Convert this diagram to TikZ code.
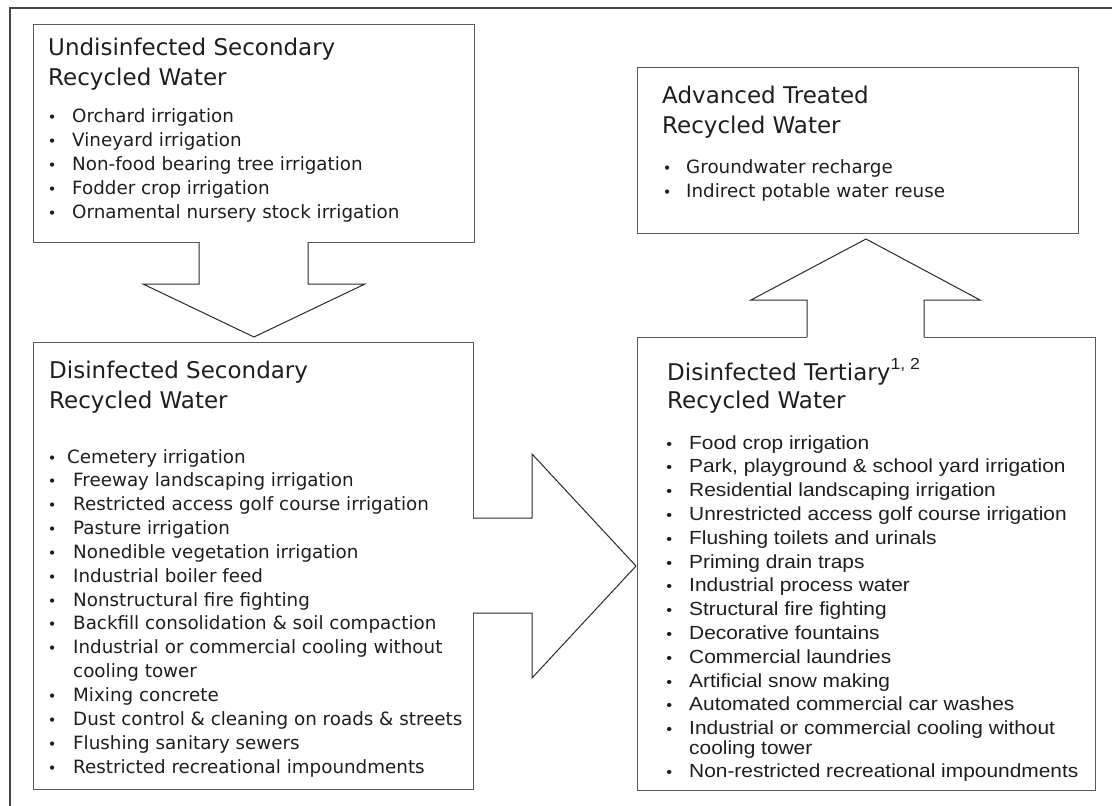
\documentclass[tikz,border=0pt]{standalone}
\usepackage{fontspec}
\setmainfont{DejaVu Sans}
\newfontfamily\arialf[FakeStretch=1.1]{Liberation Sans}
\definecolor{boxline}{HTML}{5A5A5A}
\definecolor{arrline}{HTML}{2A2A2A}
\definecolor{txt}{HTML}{1E1E1E}
\newcommand\ttlfont{\fontsize{23}{28}\selectfont}
\newcommand\itmfont{\fontsize{18.3}{22}\selectfont}
\newcommand\tertfont{\arialf\fontsize{19}{22}\selectfont}
\newcommand\bul[1][20pt]{\llap{\makebox[0pt][c]{\scalebox{0.8}{•}}\hspace{#1}}}
\begin{document}
\begin{tikzpicture}[x=1pt,y=-1pt,
  box/.style={draw=boxline, line width=1.3pt, anchor=north west, inner sep=0pt},
  ttl/.style={anchor=base west, inner sep=0pt, font=\ttlfont, text=txt},
  itm/.style={anchor=base west, inner sep=0pt, font=\itmfont, text=txt},
  titm/.style={anchor=base west, inner sep=0pt, font=\tertfont, text=txt},
  blk/.style={draw=arrline, line width=1pt, line join=miter}
]
\useasboundingbox (0,0) rectangle (1112,806);
% outer frame
\draw[line width=2pt, draw=black!72] (10,812) -- (10,8) -- (1116,8);

% boxes
\node[box, minimum width=441pt, minimum height=218pt] (b1) at (33,24) {};
\node[box, minimum width=440pt, minimum height=447pt] (b2) at (33,342) {};
\node[box, minimum width=441pt, minimum height=166pt] (b3) at (637,67) {};
\node[box, minimum width=458pt, minimum height=453pt] (b4) at (637,337) {};

% block arrows
\coordinate (d1) at (199,242); \coordinate (d2) at (308,242);
\fill[white] (199,240) rectangle (308,285);
\draw[blk] (d1) -- (199,284) -- (143,284) -- (254,337) -- (365,284) -- (308,284) -- (d2);

\coordinate (r1) at (473,518); \coordinate (r2) at (473,613);
\fill[white] (471,518) rectangle (532,613);
\draw[blk] (r1) -- (532,518) -- (532,454) -- (636,566) -- (532,678) -- (532,613) -- (r2);

\coordinate (u1) at (807,337); \coordinate (u2) at (924,337);
\fill[white] (807,339) rectangle (924,300);
\draw[blk] (u1) -- (807,300) -- (751,300) -- (866,239) -- (980,300) -- (924,300) -- (u2);

% box 1 text
\node[ttl] (t1a) at (48,55) {Undisinfected Secondary};
\node[ttl] (t1b) at (48,85) {Recycled Water};
\foreach \t [count=\i from 0] in {Orchard irrigation, Vineyard irrigation, Non-food bearing tree irrigation, Fodder crop irrigation, Ornamental nursery stock irrigation}
  \node[itm] (ua\i) at (72,{122+24*\i}) {\bul\t};

% box 2 text
\node[ttl] (t2a) at (49,378) {Disinfected Secondary};
\node[ttl] (t2b) at (49,408) {Recycled Water};
\node[itm] (da0) at (67,463) {\bul[15pt]Cemetery irrigation};
\foreach \t [count=\i from 1] in {\bul[21pt]Freeway landscaping irrigation, \bul[21pt]Restricted access golf course irrigation, \bul[21pt]Pasture irrigation, \bul[21pt]Nonedible vegetation irrigation, \bul[21pt]Industrial boiler feed, \bul[21pt]Nonstructural fire fighting, \bul[21pt]Backfill consolidation \& soil compaction, \bul[21pt]Industrial or commercial cooling without, cooling tower, \bul[21pt]Mixing concrete, \bul[21pt]Dust control \& cleaning on roads \& streets, \bul[21pt]Flushing sanitary sewers, \bul[21pt]Restricted recreational impoundments}
  \node[itm] (da\i) at (73,{463+23.85*\i}) {\t};

% box 3 text
\node[ttl] (t3a) at (662,103) {Advanced Treated};
\node[ttl] (t3b) at (662,133) {Recycled Water};
\node[itm] (aa1) at (686,173) {\bul[19pt]Groundwater recharge};
\node[itm] (aa2) at (686,197) {\bul[19pt]Indirect potable water reuse};

% box 4 text
\node[ttl] (t4a) at (667,380) {Disinfected Tertiary{\arialf\fontsize{16}{16}\selectfont\raisebox{11pt}{1, 2}}};
\node[ttl] (t4b) at (667,408) {Recycled Water};
\foreach \t [count=\i from 0] in {Food crop irrigation, {Park, playground \& school yard irrigation}, Residential landscaping irrigation, Unrestricted access golf course irrigation, Flushing toilets and urinals, Priming drain traps, Industrial process water, Structural fire fighting, Decorative fountains, Commercial laundries, Artificial snow making, Automated commercial car washes, Industrial or commercial cooling without}
  \node[titm] (ta\i) at (689,{449+23.8*\i}) {\bul\t};
\node[titm] (ta13) at (689,754) {cooling tower};
\node[titm] (ta14) at (689,777) {\bul Non-restricted recreational impoundments};
\end{tikzpicture}
\end{document}
